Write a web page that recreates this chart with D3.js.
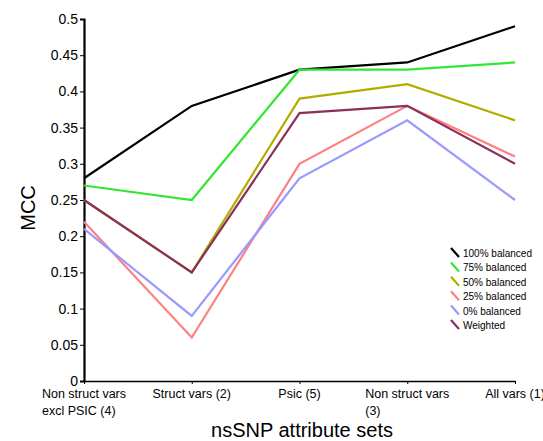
<!DOCTYPE html>
<html><head><meta charset="utf-8">
<script src="https://cdn.jsdelivr.net/npm/d3@7"></script>
<style>body{margin:0;background:#fff}svg{display:block;font-family:"Liberation Sans",Arial,Helvetica,sans-serif}</style>
</head><body><svg id="c" width="543" height="441"></svg>
<script>
const categories = [["Non struct vars","excl PSIC (4)"],["Struct vars (2)"],["Psic (5)"],["Non struct vars","(3)"],["All vars (1)"]];
const yTicks = [0,0.05,0.1,0.15,0.2,0.25,0.3,0.35,0.4,0.45,0.5];
const seriesNames = ["100% balanced","75% balanced","50% balanced","25% balanced","0% balanced","Weighted"];
const seriesColors = ["#000000","#33e633","#b3ad00","#ff8080","#9999ff","#8c2f5a"];
const v100 = [0.28,0.38,0.43,0.44,0.49];
const v75 = [0.27,0.25,0.43,0.43,0.44];
const v50 = [0.25,0.15,0.39,0.41,0.36];
const v25 = [0.22,0.06,0.30,0.38,0.31];
const v0 = [0.21,0.09,0.28,0.36,0.25];
const vW = [0.25,0.15,0.37,0.38,0.30];
const seriesValues = [v100,v75,v50,v25,v0,vW];

const svg = d3.select("#c");
const x = d3.scalePoint().domain(d3.range(categories.length)).range([84,515]);
const y = d3.scaleLinear().domain([0,0.5]).range([381,19]);

// y axis
const ya = svg.append("g").attr("transform","translate(84,0)")
  .call(d3.axisLeft(y).tickValues(yTicks).tickSize(4).tickPadding(2).tickFormat(d=>d3.format("~g")(d)));
ya.select(".domain").attr("stroke","#000").attr("stroke-width",2.2);
ya.selectAll(".tick line").attr("stroke","#000").attr("stroke-width",1);
ya.selectAll(".tick text").attr("font-size",14).attr("fill","#000").attr("font-family","Liberation Sans, Arial, sans-serif");

// x axis
const xa = svg.append("g").attr("transform","translate(0,381)")
  .call(d3.axisBottom(x).tickSize(3).tickSizeOuter(0).tickFormat(""));
xa.select(".domain").attr("stroke","#000").attr("stroke-width",1.5);
xa.selectAll(".tick line").attr("stroke","#000");

// x labels (block centred on tick, lines left aligned)
categories.forEach((lines,i)=>{
  const g = svg.append("g");
  const t = g.append("text").attr("font-size",12.5).attr("fill","#000");
  lines.forEach((l,j)=>t.append("tspan").attr("x",0).attr("y",398+j*17).text(l));
  const w = t.node().getBBox().width;
  g.attr("transform",`translate(${x(i)-w/2},0)`);
});

// lines
const line = d3.line().x((d,i)=>x(i)).y(d=>y(d));
seriesValues.forEach((vals,k)=>{
  svg.append("path").datum(vals).attr("d",line).attr("fill","none")
    .attr("stroke",seriesColors[k]).attr("stroke-width",2.2).attr("stroke-linejoin","miter");
});

// axis titles
svg.append("text").attr("transform","translate(35,208) rotate(-90)").attr("text-anchor","middle")
  .attr("font-size",20).attr("fill","#000").text("MCC");
svg.append("text").attr("x",302).attr("y",437).attr("text-anchor","middle")
  .attr("font-size",20).attr("fill","#000").text("nsSNP attribute sets");

// legend
const lg = svg.append("g").attr("transform","translate(450,253)");
seriesNames.forEach((n,k)=>{
  const r = lg.append("g").attr("transform",`translate(0,${k*14.4})`);
  r.append("line").attr("x1",1).attr("y1",-5).attr("x2",9).attr("y2",4)
    .attr("stroke",seriesColors[k]).attr("stroke-width",2.2);
  r.append("text").attr("x",13).attr("y",4).attr("font-size",10).attr("fill","#000").text(n);
});
</script></body></html>
